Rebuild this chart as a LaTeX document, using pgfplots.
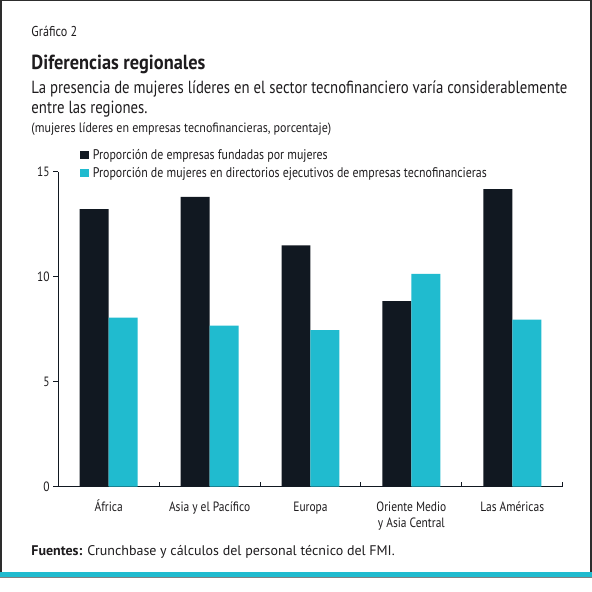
\documentclass[border=0pt]{standalone}
\usepackage{fontspec}
\setmainfont{PT Sans}[FakeStretch=0.85]
\newfontfamily\srcfont{PT Sans}[FakeStretch=1.0]
\usepackage{pgfplots}
\usepackage{pgfplotstable}
\pgfplotsset{compat=1.18}
\definecolor{imfnavy}{RGB}{17,24,33}
\definecolor{imfcyan}{RGB}{32,187,207}
\definecolor{framegray}{RGB}{45,45,45}
\definecolor{inktext}{RGB}{30,28,30}

% x = category centre, values in percent
\pgfplotstableread{
x    founders boards
0.5  13.22    8.05
1.5  13.80    7.67
2.5  11.49    7.46
3.5  8.84     10.14
4.5  14.18    7.95
}\regiondata

\begin{document}
\begin{tikzpicture}[every node/.style={text=inktext}]
\fill[white] (0pt,0pt) rectangle (592pt,592pt);

% frame and bottom stripe
\draw[framegray, line width=1.5pt] (0.75pt,19pt) -- (0.75pt,591.25pt) -- (591.25pt,591.25pt) -- (591.25pt,19pt);
\fill[imfcyan] (0pt,14pt) rectangle (592pt,19pt);
\draw[gray, line width=0.6pt] (0pt,13.7pt) -- (592pt,13.7pt);

% headings
\node[anchor=base west, inner sep=0pt, font=\fontsize{14.3}{16}\selectfont] at (31pt,555.3pt) {Gráfico 2};
\node[anchor=base west, inner sep=0pt, font=\fontsize{20.4}{22}\selectfont\bfseries\addfontfeatures{FakeStretch=0.9}] at (31pt,522.7pt) {Diferencias regionales};
\node[anchor=base west, inner sep=0pt, font=\fontsize{17.6}{20}\selectfont\addfontfeatures{FakeStretch=0.84}] at (31pt,498.7pt) {La presencia de mujeres líderes en el sector tecnofinanciero varía considerablemente};
\node[anchor=base west, inner sep=0pt, font=\fontsize{17.6}{20}\selectfont\addfontfeatures{FakeStretch=0.84}] at (31pt,478.7pt) {entre las regiones.};
\node[anchor=base west, inner sep=0pt, font=\fontsize{13.5}{15}\selectfont\addfontfeatures{FakeStretch=0.89}] at (31pt,459pt) {(mujeres líderes en empresas tecnofinancieras, porcentaje)};
\node[anchor=base west, inner sep=0pt, font=\fontsize{14}{15}\selectfont\srcfont] at (31pt,36pt) {\textbf{Fuentes:} Crunchbase y cálculos del personal técnico del FMI.};

\begin{axis}[
  at={(58pt,105pt)}, anchor=south west,
  scale only axis,
  width=505pt, height=315pt,
  xmin=0, xmax=5,
  ymin=0, ymax=15,
  axis x line*=bottom,
  axis y line*=left,
  axis line style={line width=1pt, imfnavy},
  ybar=0pt, bar width=29pt,
  xtick={0.5,1.5,2.5,3.5,4.5},
  xticklabels={África, Asia y el Pacífico, Europa,
    {\begin{tabular}[t]{@{}c@{}}Oriente Medio\\y Asia Central\end{tabular}},
    Las Américas},
  minor xtick={0,1,2,3,4,5},
  major x tick style={draw=none},
  minor tick length=5pt,
  major tick length=5pt,
  xtick align=inside,
  ytick align=outside,
  ytick={0,5,10,15},
  tick style={line width=1pt, imfnavy},
  xticklabel style={anchor=north, inner sep=0pt, text height=10pt, yshift=-15pt,
    font=\fontsize{13.5}{16}\selectfont},
  yticklabel style={font=\fontsize{13.5}{15}\selectfont},
  /pgf/number format/assume math mode=true,
  legend style={at={(0.0436,1.076)}, anchor=north west, draw=none, fill=none,
    inner sep=0pt, row sep=5pt, font=\fontsize{14}{15}\selectfont,
    nodes={inner sep=1pt},
    /tikz/every odd column/.append style={column sep=2.5pt}},
  legend cell align=left,
  legend image code/.code={\fill[#1] (0pt,-4pt) rectangle (9pt,4pt);},
]
\addplot[fill=imfnavy, draw=none] table[x=x, y=founders] {\regiondata};
\addlegendentry{Proporción de empresas fundadas por mujeres}
\addplot[fill=imfcyan, draw=none] table[x=x, y=boards] {\regiondata};
\addlegendentry{Proporción de mujeres en directorios ejecutivos de empresas tecnofinancieras}
\end{axis}
\end{tikzpicture}
\end{document}
